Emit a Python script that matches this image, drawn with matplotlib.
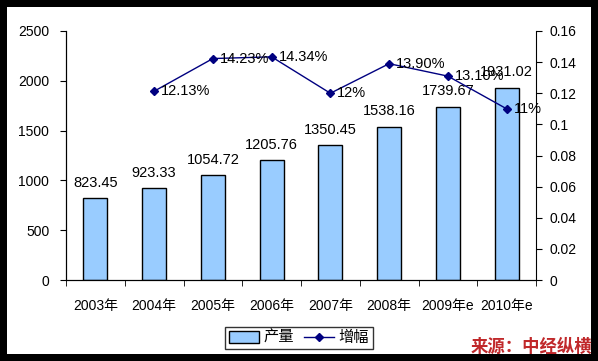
import matplotlib.pyplot as plt
from matplotlib.patches import Rectangle
import numpy as np

# Chart data
years = ['2003年', '2004年', '2005年', '2006年', '2007年', '2008年',
         '2009年e', '2010年e']
output = [823.45, 923.33, 1054.72, 1205.76, 1350.45, 1538.16, 1739.67,
          1931.02]
output_labels = ['823.45', '923.33', '1054.72', '1205.76', '1350.45',
                 '1538.16', '1739.67', '1931.02']
growth = [np.nan, 0.1213, 0.1423, 0.1434, 0.12, 0.139, 0.131, 0.11]
growth_labels = ['', '12.13%', '14.23%', '14.34%', '12%', '13.90%',
                 '13.10%', '11%']
left_ticks = [0, 500, 1000, 1500, 2000, 2500]
right_ticks = [0, 0.02, 0.04, 0.06, 0.08, 0.1, 0.12, 0.14, 0.16]
right_tick_labels = ['0', '0.02', '0.04', '0.06', '0.08', '0.1', '0.12',
                     '0.14', '0.16']

plt.rcParams['font.family'] = ['Liberation Sans', 'Noto Sans CJK SC',
                               'DejaVu Sans']
plt.rcParams['font.size'] = 10


def main():
    # Set up the figure with a black frame around a white panel:
    fig = plt.figure(figsize=(5.98, 3.61), dpi=100)
    fig.patch.set_facecolor('black')
    fig.add_artist(Rectangle((7 / 598, 7 / 361), 584 / 598, 347 / 361,
                             transform=fig.transFigure, facecolor='white',
                             edgecolor='none', zorder=0))

    ax = fig.add_axes([66 / 598, 1 - 280 / 361, 470 / 598, 249 / 361])
    ax.set_facecolor('none')
    ax2 = ax.twinx()

    x = np.arange(len(years))

    # Bars for production:
    bars = ax.bar(x, output, width=0.41, color='#99CCFF', edgecolor='black',
                  linewidth=1, label='产量')
    ax.bar_label(bars, labels=output_labels, padding=6, fontsize=10.5)

    # Line for growth rate:
    line, = ax2.plot(x, growth, color='#000080', marker='D', markersize=4.5,
                     linewidth=1, label='增幅')
    for xi, g, lab in zip(x, growth, growth_labels):
        if lab:
            ax2.annotate(lab, (xi, g), xytext=(5, 0),
                         textcoords='offset points', ha='left', va='center',
                         fontsize=10.5)

    # Axes styling:
    ax.set_xlim(-0.5, len(years) - 0.5)
    ax.set_ylim(0, 2500)
    ax.set_yticks(left_ticks)
    ax2.set_ylim(0, 0.16)
    ax2.set_yticks(right_ticks)
    ax2.set_yticklabels(right_tick_labels)

    ax.set_xticks(x)
    ax.set_xticklabels(years)
    ax.set_xticks(np.arange(-0.5, len(years)), minor=True)
    ax.tick_params(axis='x', which='major', length=0, pad=14)
    ax.tick_params(axis='x', which='minor', length=4, direction='out')
    ax.tick_params(axis='y', length=4, direction='out', pad=8)
    ax2.tick_params(axis='y', length=4, direction='out', pad=6)

    for a in (ax, ax2):
        a.spines['top'].set_visible(False)
    ax.spines['right'].set_visible(False)

    # Legend at the bottom:
    leg = fig.legend([bars, line], ['产量', '增幅'], ncol=2,
                     loc='center', bbox_to_anchor=(299 / 598, 1 - 338 / 361),
                     frameon=True, fancybox=False, edgecolor='black',
                     handlelength=2.0, handleheight=0.8, borderpad=0.25,
                     columnspacing=0.6, handletextpad=0.3, fontsize=11,
                     borderaxespad=0)
    leg.get_frame().set_linewidth(1)

    # Source note:
    fig.text(592 / 598, 1 - 347 / 361, '来源：中经纵横', ha='right',
             va='center', color='#C0282A', fontsize=12.5, fontweight='bold',
             style='italic', family=['Noto Sans CJK SC', 'DejaVu Sans'])

    fig.savefig('out.png', dpi=100, facecolor=fig.get_facecolor())


if __name__ == '__main__':
    main()
